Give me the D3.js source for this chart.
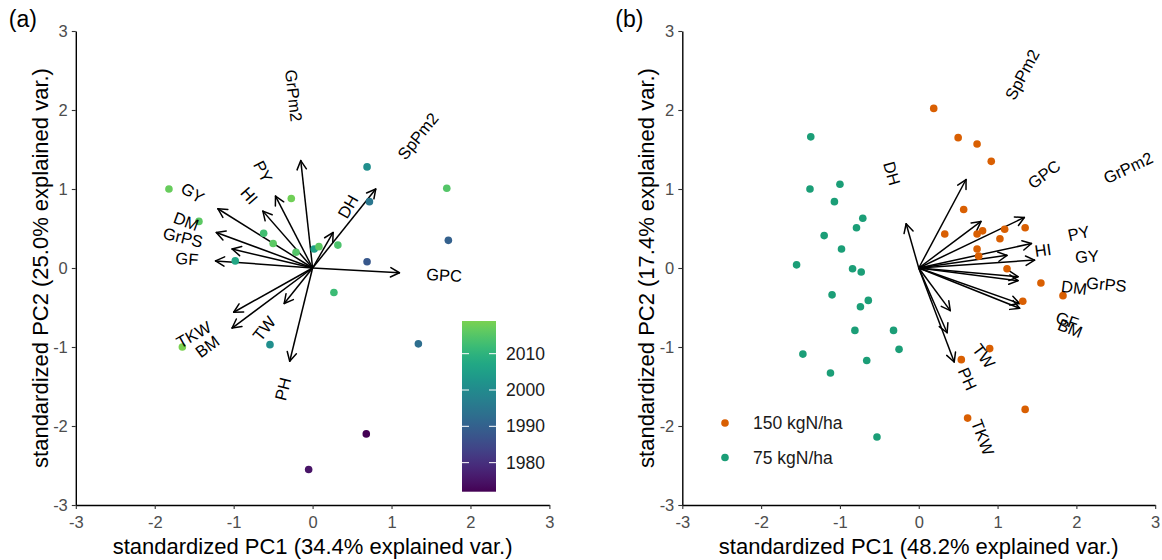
<!DOCTYPE html>
<html>
<head>
<meta charset="utf-8">
<script src="https://cdn.jsdelivr.net/npm/d3@7"></script>
<style>
  body { margin: 0; background: #fff; }
  text { font-family: "Liberation Sans", Arial, sans-serif; }
</style>
</head>
<body>
<svg id="chart" width="1162" height="560"></svg>
<script>
// ---- panel (a): genotypes coloured by release year
let yearPC1 = [-1.82, -1.44, -0.98, -0.62, -0.50, -0.27, -0.21, 0.02, 0.08, 0.32, 0.27, 0.69, 0.72, 0.69, 1.70, 1.72, 1.34, -0.54, -1.65, 0.68, -0.05];
let yearPC2 = [1.00, 0.59, 0.09, 0.44, 0.31, 0.88, 0.20, 0.24, 0.27, 0.29, -0.31, 1.28, 0.84, 0.08, 1.01, 0.35, -0.96, -0.97, -1.00, -2.10, -2.55];
let years   = [2017, 2016, 2007, 2013, 2016, 2018, 2015, 2005, 2016, 2014, 2012, 2001, 1995, 1988, 2015, 1990, 1993, 2001, 2019, 1972, 1975];

let varsA = ["GY", "DM", "GrPS", "GF", "PY", "HI", "GrPm2", "DH", "SpPm2", "GPC", "TKW", "BM", "TW", "PH"];
let varsA_pc1 = [-1.20, -1.22, -1.02, -1.23, -0.47, -0.63, -0.15, 0.26, 0.80, 1.10, -1.00, -1.02, -0.36, -0.29];
let varsA_pc2 = [0.75, 0.45, 0.24, 0.09, 0.91, 0.72, 1.36, 0.45, 1.00, -0.06, -0.56, -0.76, -0.45, -1.18];

// ---- panel (b): nitrogen treatments
let nHighPC1 = [0.19, 0.50, 0.74, 0.92, 0.57, 0.33, 0.74, 0.81, 1.09, 1.35, 1.03, 0.74, 0.76, 1.12, 1.55, 1.83, 1.32, 0.90, 0.54, 0.62, 1.35];
let nHighPC2 = [2.02, 1.65, 1.57, 1.35, 0.74, 0.43, 0.43, 0.47, 0.49, 0.51, 0.37, 0.24, 0.15, -0.01, -0.19, -0.35, -0.42, -1.02, -1.16, -1.90, -1.79];
let nLowPC1 = [-1.37, -1.38, -1.00, -1.07, -0.71, -0.79, -1.20, -0.98, -1.55, -0.84, -0.73, -1.10, -0.64, -0.74, -0.81, -0.32, -0.25, -1.47, -0.66, -1.12, -0.53];
let nLowPC2 = [1.66, 1.00, 1.06, 0.84, 0.63, 0.51, 0.41, 0.24, 0.04, -0.01, -0.05, -0.34, -0.41, -0.49, -0.79, -0.79, -1.03, -1.09, -1.17, -1.33, -2.14];
let nLabels = ["150 kgN/ha", "75 kgN/ha"];

let varsB = ["DH", "SpPm2", "GPC", "GrPm2", "PY", "HI", "GY", "GrPS", "DM", "GF", "BM", "TW", "PH", "TKW"];
let varsB_pc1 = [-0.16, 0.60, 0.79, 1.34, 1.43, 1.12, 1.47, 1.26, 1.26, 1.28, 1.28, 0.40, 0.36, 0.45];
let varsB_pc2 = [0.56, 1.12, 0.59, 0.64, 0.31, 0.16, 0.10, -0.11, -0.16, -0.45, -0.51, -0.54, -0.82, -1.19];

let ticks = [-3, -2, -1, 0, 1, 2, 3];
let yearTicks = [1980, 1990, 2000, 2010];

let svg = d3.select("#chart");
let font = "\"Liberation Sans\", Arial, sans-serif";

let y = d3.scaleLinear().domain([-3, 3]).range([505, 31]);
let xA = d3.scaleLinear().domain([-3, 3]).range([75.8, 549.4]);
let xB = d3.scaleLinear().domain([-3, 3]).range([682.3, 1155.2]);

function drawAxes(x, title1, title2, letter) {
  // plain hyphen for negatives, like the original
  let fmt = d => String(d);
  let gx = svg.append("g").attr("transform", "translate(0," + y(-3) + ")")
    .call(d3.axisBottom(x).tickValues(ticks).tickSize(4).tickPadding(7).tickSizeOuter(0).tickFormat(fmt));
  let gy = svg.append("g").attr("transform", "translate(" + x(-3) + ",0)")
    .call(d3.axisLeft(y).tickValues(ticks).tickSize(4).tickPadding(4).tickSizeOuter(0).tickFormat(fmt));
  [gx, gy].forEach(g => {
    g.select(".domain").attr("stroke", "#000").attr("stroke-width", 1.4);
    g.selectAll(".tick line").attr("stroke", "#333").attr("stroke-width", 1.1);
    g.selectAll(".tick text").attr("fill", "#4d4d4d").style("font-size", "16.5px").style("font-family", font);
  });
  svg.append("text").attr("x", (x(-3) + x(3)) / 2).attr("y", 554)
    .attr("text-anchor", "middle").style("font-size", "22px").text(title1);
  svg.append("text").attr("transform", "translate(" + (x(-3) - 28) + "," + y(0) + ") rotate(-90)")
    .attr("text-anchor", "middle").style("font-size", "22px").text(title2);
  svg.append("text").attr("x", x(-3) - 67).attr("y", 27).style("font-size", "23px").text(letter);
}

function drawArrows(x, names, pc1, pc2, adjust) {
  let g = svg.append("g");
  names.forEach((n, i) => {
    let x0 = x(0), y0 = y(0), x1 = x(pc1[i]), y1 = y(pc2[i]);
    let ang = Math.atan2(y1 - y0, x1 - x0);
    let len = 10, spread = 28 * Math.PI / 180;
    g.append("line").attr("x1", x0).attr("y1", y0).attr("x2", x1).attr("y2", y1)
      .attr("stroke", "#000").attr("stroke-width", 1.5);
    [-spread, spread].forEach(s => {
      g.append("line").attr("x1", x1).attr("y1", y1)
        .attr("x2", x1 - len * Math.cos(ang + s)).attr("y2", y1 - len * Math.sin(ang + s))
        .attr("stroke", "#000").attr("stroke-width", 1.5).attr("stroke-linecap", "round");
    });
  });
  return function labels() {
    names.forEach((n, i) => {
      let deg = Math.atan(pc2[i] / pc1[i]) * 180 / Math.PI;
      let hjust = 0.5 * (1 - adjust * Math.sign(pc1[i]));
      let t = svg.append("text")
        .attr("transform", "translate(" + x(pc1[i]) + "," + y(pc2[i]) + ") rotate(" + (-deg) + ")")
        .attr("dy", "0.35em").style("font-size", "16.5px").attr("fill", "#000").text(n);
      let w = t.node().getComputedTextLength();
      t.attr("x", -hjust * w);
    });
  };
}

// ---------- panel (a)
drawAxes(xA, "standardized PC1 (34.4% explained var.)", "standardized PC2 (25.0% explained var.)", "(a)");
let labA = drawArrows(xA, varsA, varsA_pc1, varsA_pc2, 2.5);

let yearMin = d3.min(years), yearMax = d3.max(years);
let color = d3.scaleSequential(t => d3.interpolateViridis(t * 0.8)).domain([yearMin, yearMax]);

svg.append("g").selectAll("circle")
  .data(years)
  .enter().append("circle")
  .attr("cx", (d, i) => xA(yearPC1[i]))
  .attr("cy", (d, i) => y(yearPC2[i]))
  .attr("r", 3.8)
  .attr("fill", d => color(d));
labA();

// colour bar
let cb = d3.scaleLinear().domain([yearMin, yearMax]).range([491.7, 321]);
let grad = svg.append("defs").append("linearGradient").attr("id", "vir")
  .attr("x1", 0).attr("y1", 1).attr("x2", 0).attr("y2", 0);
d3.range(0, 1.0001, 0.05).forEach(t => {
  grad.append("stop").attr("offset", t).attr("stop-color", color(yearMin + t * (yearMax - yearMin)));
});
let cbx = 462, cbw = 34;
svg.append("rect").attr("x", cbx).attr("y", cb(yearMax)).attr("width", cbw)
  .attr("height", cb(yearMin) - cb(yearMax)).attr("fill", "url(#vir)");
yearTicks.forEach(t => {
  svg.append("line").attr("x1", cbx).attr("x2", cbx + 7).attr("y1", cb(t)).attr("y2", cb(t))
    .attr("stroke", "#fff").attr("stroke-width", 1);
  svg.append("line").attr("x1", cbx + cbw - 7).attr("x2", cbx + cbw).attr("y1", cb(t)).attr("y2", cb(t))
    .attr("stroke", "#fff").attr("stroke-width", 1);
  svg.append("text").attr("x", cbx + cbw + 10).attr("y", cb(t)).attr("dy", "0.35em")
    .style("font-size", "17.5px").attr("fill", "#1a1a1a").text(t);
});

// ---------- panel (b)
drawAxes(xB, "standardized PC1 (48.2% explained var.)", "standardized PC2 (17.4% explained var.)", "(b)");
let labB = drawArrows(xB, varsB, varsB_pc1, varsB_pc2, 4.4);

let nColor = d3.scaleOrdinal().domain(nLabels).range(["#D95F02", "#1B9E77"]);
let gb = svg.append("g");
gb.selectAll(".hi").data(nHighPC1).enter().append("circle")
  .attr("cx", d => xB(d)).attr("cy", (d, i) => y(nHighPC2[i])).attr("r", 3.8)
  .attr("fill", nColor(nLabels[0]));
gb.selectAll(".lo").data(nLowPC1).enter().append("circle")
  .attr("cx", d => xB(d)).attr("cy", (d, i) => y(nLowPC2[i])).attr("r", 3.8)
  .attr("fill", nColor(nLabels[1]));
labB();

// legend
nLabels.forEach((l, i) => {
  let ly = 423 + i * 34.5;
  svg.append("circle").attr("cx", 725).attr("cy", ly).attr("r", 3.8).attr("fill", nColor(l));
  svg.append("text").attr("x", 753).attr("y", ly).attr("dy", "0.35em")
    .style("font-size", "17.5px").attr("fill", "#1a1a1a").text(l);
});
</script>
</body>
</html>
